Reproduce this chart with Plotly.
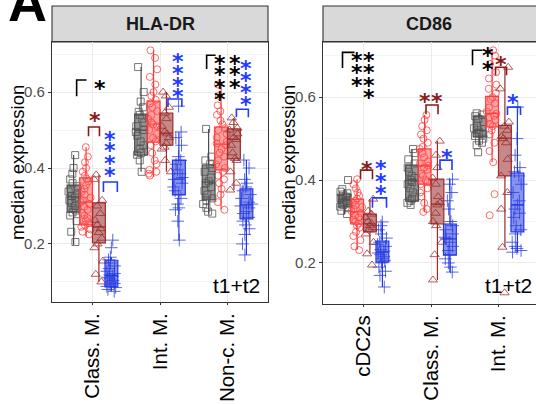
import plotly.graph_objects as go

W, H = 536, 404

# ---------------- data ----------------
left_cats = ["Class. M.", "Int. M.", "Non-c. M."]
right_cats = ["cDC2s", "Class. M.", "Int. M."]
groups = ["g1", "g2", "g3", "g4"]

# box stats per panel: [group][category] -> (lo, q1, med, q3, hi)
left_stats = {
    "g1": [(0.197, 0.284, 0.324, 0.355, 0.434), (0.39, 0.434, 0.50, 0.542, 0.666), (0.279, 0.316, 0.363, 0.408, 0.503)],
    "g2": [(0.22, 0.25, 0.31, 0.374, 0.455), (0.376, 0.468, 0.516, 0.576, 0.71), (0.29, 0.395, 0.463, 0.508, 0.62)],
    "g3": [(0.10, 0.203, 0.245, 0.308, 0.382), (0.39, 0.46, 0.492, 0.545, 0.60), (0.342, 0.424, 0.476, 0.503, 0.532)],
    "g4": [(0.075, 0.087, 0.117, 0.157, 0.165), (0.21, 0.329, 0.371, 0.421, 0.495), (0.171, 0.266, 0.303, 0.345, 0.421)],
}
right_stats = {
    "g1": [(0.318, 0.335, 0.352, 0.366, 0.378), (0.34, 0.349, 0.40, 0.436, 0.475), (0.484, 0.504, 0.52, 0.554, 0.561)],
    "g2": [(0.231, 0.294, 0.323, 0.354, 0.402), (0.323, 0.39, 0.434, 0.475, 0.557), (0.443, 0.528, 0.561, 0.602, 0.713)],
    "g3": [(0.222, 0.275, 0.294, 0.318, 0.354), (0.159, 0.294, 0.342, 0.402, 0.494), (0.238, 0.41, 0.501, 0.532, 0.672)],
    "g4": [(0.142, 0.202, 0.226, 0.253, 0.299), (0.178, 0.219, 0.258, 0.294, 0.402), (0.226, 0.275, 0.34, 0.417, 0.576)],
}

# individual sample values: [group][category]
left_points = {
    "g1": [
        [0.434, 0.40, 0.385, 0.37, 0.36, 0.352, 0.345, 0.338, 0.33, 0.326, 0.322, 0.315, 0.308, 0.30, 0.294, 0.288, 0.283, 0.275, 0.26, 0.232, 0.205],
        [0.666, 0.60, 0.575, 0.56, 0.548, 0.54, 0.53, 0.52, 0.51, 0.50, 0.495, 0.485, 0.47, 0.46, 0.45, 0.44, 0.435, 0.42, 0.39],
        [0.503, 0.43, 0.42, 0.41, 0.40, 0.39, 0.375, 0.365, 0.36, 0.35, 0.34, 0.33, 0.32, 0.315, 0.305, 0.295, 0.285, 0.28],
    ],
    "g2": [
        [0.455, 0.43, 0.415, 0.40, 0.39, 0.38, 0.372, 0.365, 0.355, 0.345, 0.338, 0.33, 0.322, 0.315, 0.31, 0.305, 0.298, 0.29, 0.282, 0.275, 0.268, 0.262, 0.255, 0.25, 0.245, 0.238, 0.232, 0.225],
        [0.71, 0.69, 0.66, 0.64, 0.62, 0.60, 0.59, 0.58, 0.57, 0.56, 0.55, 0.54, 0.53, 0.52, 0.515, 0.51, 0.50, 0.49, 0.48, 0.47, 0.46, 0.44, 0.42, 0.41, 0.395, 0.39, 0.385, 0.38],
        [0.62, 0.59, 0.565, 0.55, 0.54, 0.525, 0.515, 0.505, 0.50, 0.49, 0.48, 0.47, 0.465, 0.46, 0.45, 0.44, 0.43, 0.42, 0.41, 0.40, 0.39, 0.38, 0.37, 0.36, 0.345, 0.33, 0.31, 0.29],
    ],
    "g3": [
        [0.382, 0.37, 0.315, 0.30, 0.28, 0.262, 0.25, 0.24, 0.23, 0.215, 0.20, 0.19, 0.155, 0.12, 0.10],
        [0.60, 0.59, 0.56, 0.545, 0.53, 0.51, 0.495, 0.49, 0.48, 0.465, 0.455, 0.45, 0.42, 0.39],
        [0.532, 0.52, 0.505, 0.50, 0.49, 0.48, 0.475, 0.46, 0.44, 0.425, 0.42, 0.39, 0.36, 0.342],
    ],
    "g4": [
        [0.21, 0.19, 0.165, 0.158, 0.15, 0.142, 0.135, 0.128, 0.122, 0.118, 0.115, 0.112, 0.108, 0.104, 0.10, 0.096, 0.092, 0.088, 0.085, 0.08, 0.075],
        [0.563, 0.495, 0.48, 0.46, 0.43, 0.42, 0.41, 0.395, 0.385, 0.375, 0.37, 0.36, 0.35, 0.34, 0.33, 0.32, 0.305, 0.295, 0.29, 0.26, 0.21],
        [0.421, 0.40, 0.37, 0.36, 0.35, 0.34, 0.33, 0.32, 0.31, 0.305, 0.30, 0.295, 0.285, 0.28, 0.27, 0.26, 0.25, 0.24, 0.225, 0.20, 0.171],
    ],
}
right_points = {
    "g1": [
        [0.40, 0.378, 0.372, 0.368, 0.365, 0.36, 0.356, 0.353, 0.35, 0.347, 0.344, 0.34, 0.336, 0.332, 0.326, 0.318],
        [0.475, 0.465, 0.45, 0.44, 0.43, 0.42, 0.41, 0.405, 0.40, 0.395, 0.39, 0.38, 0.37, 0.36, 0.355, 0.35, 0.345, 0.34],
        [0.561, 0.558, 0.554, 0.548, 0.54, 0.53, 0.525, 0.52, 0.515, 0.51, 0.506, 0.50, 0.495, 0.49, 0.484, 0.467],
    ],
    "g2": [
        [0.402, 0.39, 0.38, 0.37, 0.362, 0.355, 0.35, 0.345, 0.34, 0.335, 0.33, 0.325, 0.32, 0.315, 0.31, 0.305, 0.30, 0.295, 0.29, 0.285, 0.275, 0.265, 0.255, 0.24, 0.231],
        [0.557, 0.545, 0.53, 0.52, 0.51, 0.50, 0.49, 0.48, 0.475, 0.465, 0.455, 0.445, 0.44, 0.435, 0.43, 0.425, 0.415, 0.41, 0.40, 0.395, 0.39, 0.38, 0.37, 0.36, 0.345, 0.33, 0.323],
        [0.713, 0.70, 0.68, 0.66, 0.645, 0.63, 0.62, 0.61, 0.60, 0.595, 0.585, 0.575, 0.565, 0.56, 0.555, 0.55, 0.545, 0.535, 0.53, 0.52, 0.51, 0.49, 0.47, 0.443, 0.366, 0.315],
    ],
    "g3": [
        [0.354, 0.325, 0.318, 0.31, 0.30, 0.295, 0.29, 0.285, 0.28, 0.27, 0.25, 0.222, 0.195],
        [0.494, 0.46, 0.43, 0.405, 0.39, 0.36, 0.345, 0.34, 0.32, 0.30, 0.29, 0.25, 0.22, 0.159],
        [0.672, 0.62, 0.54, 0.53, 0.52, 0.505, 0.50, 0.49, 0.45, 0.41, 0.37, 0.33, 0.238, 0.128],
    ],
    "g4": [
        [0.299, 0.29, 0.28, 0.27, 0.26, 0.25, 0.245, 0.24, 0.232, 0.228, 0.224, 0.22, 0.215, 0.21, 0.205, 0.20, 0.19, 0.18, 0.17, 0.142],
        [0.402, 0.39, 0.37, 0.35, 0.33, 0.30, 0.29, 0.28, 0.27, 0.262, 0.258, 0.25, 0.24, 0.23, 0.22, 0.21, 0.20, 0.19, 0.178],
        [0.576, 0.50, 0.46, 0.43, 0.42, 0.41, 0.39, 0.37, 0.35, 0.34, 0.33, 0.32, 0.31, 0.29, 0.28, 0.27, 0.25, 0.24, 0.235, 0.23, 0.226],
    ],
}

y_ticks = [0.2, 0.4, 0.6]
y_tick_labels = ["0.2", "0.4", "0.6"]

# significance stars: (panel, category index, offset, y values, colour key)
star_clusters = [
    (0, 1, 0.118, [0.626], "k"),
    (0, 1, 0.037, [0.541], "r"),
    (0, 1, 0.265, [0.492, 0.461, 0.429, 0.397], "b"),
    (0, 2, 0.265, [0.697, 0.666, 0.634, 0.603], "b"),
    (0, 3, -0.118, [0.692, 0.661, 0.629, 0.597], "k"),
    (0, 3, 0.118, [0.692, 0.661, 0.629], "k"),
    (0, 3, 0.279, [0.679, 0.647, 0.616, 0.584], "b"),
    (1, 1, -0.089, [0.704, 0.675, 0.643], "k"),
    (1, 1, 0.074, [0.704, 0.675, 0.643, 0.614], "k"),
    (1, 1, 0.059, [0.439], "r"),
    (1, 1, 0.252, [0.443, 0.412, 0.381], "b"),
    (1, 2, -0.089, [0.605], "r"),
    (1, 2, 0.089, [0.605], "r"),
    (1, 2, 0.237, [0.470], "b"),
    (1, 3, -0.163, [0.716, 0.682], "k"),
    (1, 3, 0.044, [0.694], "r"),
    (1, 3, 0.222, [0.602], "b"),
]
# brackets: (panel, category, offset0, offset1, ytop, ybottom, colour, both legs)
brackets = [
    (0, 1, -0.235, -0.088, 0.632, 0.589, "k", False),
    (0, 1, -0.059, 0.103, 0.508, 0.484, "r", True),
    (0, 1, 0.162, 0.368, 0.363, 0.337, "b", True),
    (0, 2, 0.118, 0.324, 0.582, 0.561, "b", True),
    (0, 3, -0.309, -0.176, 0.697, 0.661, "k", False),
    (0, 3, 0.132, 0.309, 0.555, 0.534, "b", True),
    (1, 1, -0.311, -0.133, 0.708, 0.670, "k", False),
    (1, 1, -0.044, 0.133, 0.424, 0.402, "r", True),
    (1, 1, 0.133, 0.341, 0.357, 0.333, "b", True),
    (1, 2, -0.074, 0.104, 0.581, 0.559, "r", True),
    (1, 2, 0.133, 0.311, 0.448, 0.424, "b", True),
    (1, 3, -0.385, -0.237, 0.713, 0.677, "k", False),
    (1, 3, -0.044, 0.119, 0.672, 0.653, "r", True),
    (1, 3, 0.133, 0.326, 0.576, 0.557, "b", True),
]

# ---------------- style ----------------
offsets = {"g1": -0.28, "g2": -0.095, "g3": 0.095, "g4": 0.28}
line_col = {"g1": "#4D4D4D", "g2": "#FF3B3B", "g3": "#9E2A2A", "g4": "#2438E0"}
fill_col = {"g1": "rgba(80,80,80,0.6)", "g2": "rgba(255,70,70,0.5)",
            "g3": "rgba(150,40,40,0.55)", "g4": "rgba(40,60,225,0.55)"}
symbols = {"g1": "square-open", "g2": "circle-open", "g3": "triangle-up-open", "g4": "cross-thin-open"}
msize = {"g1": 7, "g2": 7, "g3": 8, "g4": 9}
star_col = {"k": "#000000", "r": "#8B1A1A", "b": "#1F3BFF"}
BOXW = 0.19
FONT = "Liberation Sans, Arial, sans-serif"

fig = go.Figure()

panels = [
    (left_points, left_stats, "x", "y"),
    (right_points, right_stats, "x2", "y2"),
]
for pts, stats, xa, ya in panels:
    # points first (boxes drawn over them)
    for g in groups:
        xs, ys = [], []
        for ci, vals in enumerate(pts[g]):
            xs += [ci + 1 + offsets[g]] * len(vals)
            ys += vals
        fig.add_trace(go.Box(
            x=xs, y=ys, xaxis=xa, yaxis=ya, boxpoints="all", jitter=0.9, pointpos=0,
            width=BOXW, fillcolor="rgba(0,0,0,0)", line=dict(color="rgba(0,0,0,0)", width=0),
            marker=dict(symbol=symbols[g], size=msize[g], color=line_col[g], opacity=0.85,
                        line=dict(color=line_col[g], width=0.9)),
            showlegend=False, hoverinfo="skip"))
    for g in groups:
        st = stats[g]
        fig.add_trace(go.Box(
            x=[ci + 1 + offsets[g] for ci in range(len(st))],
            lowerfence=[s[0] for s in st], q1=[s[1] for s in st], median=[s[2] for s in st],
            q3=[s[3] for s in st], upperfence=[s[4] for s in st],
            xaxis=xa, yaxis=ya, boxpoints=False, width=BOXW, whiskerwidth=0,
            fillcolor=fill_col[g], line=dict(color=line_col[g], width=1.2),
            showlegend=False, hoverinfo="skip"))

shapes = []
annotations = []
for p, c, d0, d1, yt, yb, col, both in brackets:
    xr, yr = ("x", "y") if p == 0 else ("x2", "y2")
    x0, x1 = c + d0, c + d1
    path = f"M {x0},{yb} L {x0},{yt} L {x1},{yt}"
    if both:
        path += f" L {x1},{yb}"
    shapes.append(dict(type="path", path=path, xref=xr, yref=yr,
                       line=dict(color=star_col[col], width=1.6)))
for p, c, d, ys, col in star_clusters:
    xr, yr = ("x", "y") if p == 0 else ("x2", "y2")
    for yv in ys:
        annotations.append(dict(text="<b>*</b>", x=c + d, y=yv, xref=xr, yref=yr, showarrow=False,
                                font=dict(family="DejaVu Sans", size=22, color=star_col[col]),
                                xanchor="center", yanchor="middle", yshift=-6))

# strips
strip_top = 1 - 6 / H
strip_bot = 1 - 42 / H
shapes.append(dict(type="rect", xref="paper", yref="paper", x0=52 / W, x1=268 / W, y0=strip_bot, y1=strip_top,
                   fillcolor="#D9D9D9", line=dict(color="#333333", width=1.1), layer="below"))
shapes.append(dict(type="rect", xref="paper", yref="paper", x0=323 / W, x1=1.05, y0=strip_bot, y1=strip_top,
                   fillcolor="#D9D9D9", line=dict(color="#333333", width=1.1), layer="below"))
annotations += [
    dict(text="<b>HLA-DR</b>", x=160 / W, y=1 - 24.5 / H, xref="paper", yref="paper", showarrow=False,
         font=dict(family=FONT, size=18, color="#1A1A1A"), xanchor="center", yanchor="middle"),
    dict(text="<b>CD86</b>", x=429 / W, y=1 - 24.5 / H, xref="paper", yref="paper", showarrow=False,
         font=dict(family=FONT, size=18, color="#1A1A1A"), xanchor="center", yanchor="middle"),
    dict(text="median expression", x=17 / W, y=1 - 163 / H, xref="paper", yref="paper", showarrow=False,
         textangle=-90, font=dict(family=FONT, size=18.5, color="#000000"), xanchor="center", yanchor="middle"),
    dict(text="median expression", x=288 / W, y=1 - 163 / H, xref="paper", yref="paper", showarrow=False,
         textangle=-90, font=dict(family=FONT, size=18.5, color="#000000"), xanchor="center", yanchor="middle"),
    dict(text="t1+t2", x=1, y=0, xref="x domain", yref="y domain", showarrow=False,
         font=dict(family=FONT, size=21, color="#000000"), xanchor="right", yanchor="bottom", xshift=-6, yshift=3),
    dict(text="t1+t2", x=1, y=0, xref="x2 domain", yref="y2 domain", showarrow=False,
         font=dict(family=FONT, size=21, color="#000000"), xanchor="right", yanchor="bottom", xshift=-2, yshift=5),
    dict(text="<b>A</b>", x=6 / W, y=1 - 34 / H, xref="paper", yref="paper", showarrow=False,
         font=dict(family=FONT, size=54, color="#000000"), xanchor="left", yanchor="bottom"),
]

xcommon = dict(tickvals=[1, 2, 3], tickangle=-90, tickfont=dict(family=FONT, size=20.5, color="#000000"),
               showgrid=True, gridcolor="#EBEBEB", gridwidth=1.1, zeroline=False,
               showline=True, linecolor="#333333", linewidth=1.1, mirror=True,
               ticks="outside", ticklen=2, tickcolor="#333333", automargin=False)
ycommon = dict(tickvals=y_ticks, ticktext=y_tick_labels, tickfont=dict(family=FONT, size=15, color="#4D4D4D"),
               showgrid=True, gridcolor="#EBEBEB", gridwidth=1.1, zeroline=False,
               showline=True, linecolor="#333333", linewidth=1.1,
               ticks="outside", ticklen=3, tickcolor="#333333", automargin=False,
               minor=dict(dtick=0.1, tick0=0, showgrid=True, gridcolor="#F4F4F4", gridwidth=0.6, ticks=""))

fig.update_layout(
    template="none",
    width=W, height=H, margin=dict(l=0, r=0, t=0, b=0, autoexpand=False),
    paper_bgcolor="white", plot_bgcolor="white", boxmode="overlay",
    xaxis=dict(domain=[52 / W, 268 / W], range=[0.4, 3.6], ticktext=left_cats, anchor="y", **xcommon),
    yaxis=dict(domain=[1 - 302 / H, 1 - 42 / H], range=[0.047, 0.732], anchor="x", mirror=True, **ycommon),
    xaxis2=dict(domain=[323 / W, 1.0], range=[0.4, 0.4 + (536 - 323) / 67.5], ticktext=right_cats, anchor="y2", **xcommon),
    yaxis2=dict(domain=[1 - 304 / H, 1 - 42 / H], range=[0.101, 0.733], anchor="x2", mirror=False, **ycommon),
    shapes=shapes, annotations=annotations, font=dict(family=FONT),
)

fig.write_html("out.html", config={"displayModeBar": False},
               post_script="document.body.style.margin='0px';document.body.style.overflow='hidden';")
